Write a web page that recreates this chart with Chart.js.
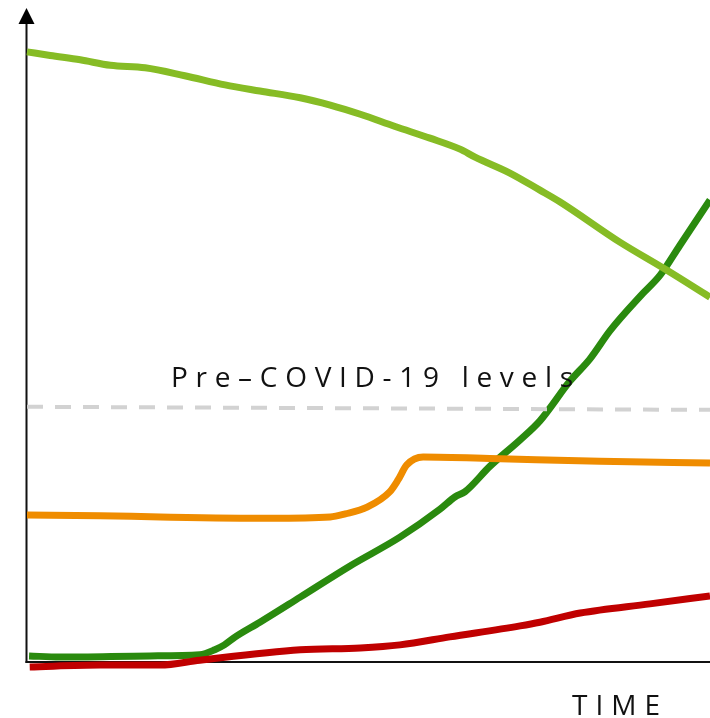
<!DOCTYPE html>
<html>
<head>
<meta charset="utf-8">
<script src="https://cdn.jsdelivr.net/npm/chart.js@4"></script>
<style>
  html, body { margin: 0; padding: 0; background: #fff; }
  #wrap { width: 710px; height: 718px; position: relative; }
</style>
</head>
<body>
<div id="wrap"><canvas id="c"></canvas></div>
<script>
// ---- Data (time on x: 0..100, level on y: 0..100) ----
const lightGreenX = [0, 3.4, 7.8, 12.2, 17.3, 23.1, 29.0, 34.1, 40.0, 44.4, 48.8, 53.9, 59.0, 63.4, 65.6, 70.7, 75.1, 78.0, 86.8, 93.4, 100];
const lightGreenY = [99.7, 99.1, 98.4, 97.5, 97.1, 95.8, 94.3, 93.3, 92.2, 91.0, 89.5, 87.5, 85.6, 83.8, 82.5, 79.9, 77.1, 75.2, 68.6, 64.2, 59.6];

const darkGreenX = [0.3, 4.8, 18.0, 25.3, 27.5, 28.9, 30.5, 34.1, 40.0, 47.3, 54.6, 60.5, 62.7, 64.1, 67.8, 72.2, 75.1, 79.5, 82.4, 85.4, 89.8, 92.7, 95.6, 100];
const darkGreenY = [1.0, 0.8, 1.0, 1.2, 2.0, 2.8, 4.1, 6.5, 10.6, 15.7, 20.4, 25.0, 27.0, 27.8, 32.0, 36.3, 39.4, 45.9, 49.5, 54.2, 59.8, 63.2, 68.1, 75.5];

const orangeX = [0, 10.7, 19.5, 35.6, 44.4, 46.6, 49.8, 53.1, 54.3, 55.6, 58.0, 69.3, 83.9, 100];
const orangeY = [24.0, 23.9, 23.7, 23.5, 23.7, 24.2, 25.3, 27.8, 29.7, 32.2, 33.5, 33.2, 32.8, 32.5];

const redX = [0.4, 10.7, 19.5, 25.3, 40.0, 48.8, 54.6, 61.9, 72.2, 75.1, 81.0, 91.2, 100];
const redY = [-0.8, -0.5, -0.5, 0.3, 2.0, 2.3, 2.8, 4.1, 5.9, 6.5, 8.0, 9.5, 10.8];

const preCovidX = [0, 100];
const preCovidY = [41.7, 41.2];

const preCovidLabel = "Pre\u2013COVID-19 levels";
const xAxisTitle = "TIME";

function pts(xs, ys) { return xs.map((x, i) => ({ x: x, y: ys[i] })); }

const axesPlugin = {
  id: 'axesArrow',
  beforeDatasetsDraw(chart) {
    const ctx = chart.ctx;
    const xs = chart.scales.x, ys = chart.scales.y;
    const x0 = xs.getPixelForValue(0);
    const y0 = ys.getPixelForValue(0);
    ctx.save();
    ctx.strokeStyle = '#111';
    ctx.lineWidth = 2;
    ctx.beginPath();
    ctx.moveTo(x0 - 0.5, y0 + 1);
    ctx.lineTo(x0 - 0.5, 22);
    ctx.stroke();
    ctx.beginPath();
    ctx.moveTo(x0 - 1.5, y0);
    ctx.lineTo(chart.width, y0);
    ctx.stroke();
    ctx.fillStyle = '#000';
    ctx.beginPath();
    ctx.moveTo(x0 - 0.5, 8);
    ctx.lineTo(x0 - 8.5, 24);
    ctx.lineTo(x0 + 7.5, 24);
    ctx.closePath();
    ctx.fill();
    ctx.restore();
  },
  afterDraw(chart) {
    const ctx = chart.ctx;
    ctx.save();
    ctx.fillStyle = '#111';
    ctx.font = '28px "Open Sans"';
    ctx.textAlign = 'left';
    ctx.textBaseline = 'alphabetic';
    ctx.letterSpacing = '7.7px';
    ctx.fillText(preCovidLabel, 171, 387);
    ctx.letterSpacing = '8px';
    ctx.fillText(xAxisTitle, 572, 715);
    ctx.restore();
  }
};

const common = { pointRadius: 0, fill: false, cubicInterpolationMode: 'monotone', borderCapStyle: 'butt', clip: false };

new Chart(document.getElementById('c'), {
  type: 'line',
  data: {
    datasets: [
      Object.assign({ label: 'Pre-COVID-19 levels', data: pts(preCovidX, preCovidY), borderColor: '#d2d2d2', borderWidth: 4, borderDash: [16, 12], cubicInterpolationMode: 'default', tension: 0 }, { pointRadius: 0, fill: false, clip: false }),
      Object.assign({ label: 'Orange', data: pts(orangeX, orangeY), borderColor: '#ef8c00', borderWidth: 7 }, common),
      Object.assign({ label: 'Red', data: pts(redX, redY), borderColor: '#c00000', borderWidth: 7 }, common),
      Object.assign({ label: 'Light green', data: pts(lightGreenX, lightGreenY), borderColor: '#86bc25', borderWidth: 7 }, common),
      Object.assign({ label: 'Dark green', data: pts(darkGreenX, darkGreenY), borderColor: '#2a8a0e', borderWidth: 7 }, common)
    ]
  },
  options: {
    responsive: true,
    maintainAspectRatio: false,
    animation: false,
    layout: { padding: { left: 27, right: 0, top: 19.4, bottom: 25.4 } },
    plugins: { legend: { display: false }, tooltip: { enabled: false } },
    scales: {
      x: { type: 'linear', min: 0, max: 100, display: false },
      y: { type: 'linear', min: -5, max: 105, display: false }
    }
  },
  plugins: [axesPlugin]
});
</script>
</body>
</html>
